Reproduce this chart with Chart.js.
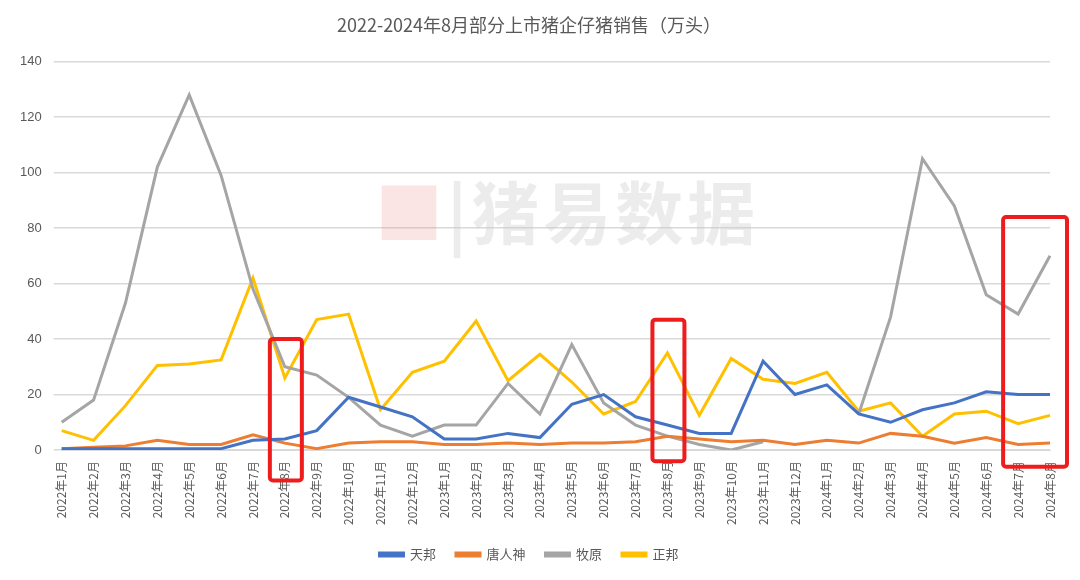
<!DOCTYPE html>
<html><head><meta charset="utf-8">
<script src="https://cdn.jsdelivr.net/npm/chart.js@4.4.0/dist/chart.umd.min.js"></script>
<style>html,body{margin:0;background:#fff}#w{width:1080px;height:580px;position:relative}
#wm{position:absolute;left:375px;top:160px;font:bold 68px "Noto Sans CJK SC";color:rgba(200,200,200,0.35);letter-spacing:4px}
</style></head><body><div id="w"><div id="wm"><span style="color:rgba(230,120,120,0.2)">■</span>|猪易数据</div><canvas id="c" width="1080" height="580"></canvas></div>
<script>
const categories=[];
for(const y of [2022,2023,2024]){for(let m=1;m<=12;m++){if(y===2024&&m>8)break;categories.push(y+'年'+m+'月');}}
const tianbang=[0.5,0.5,0.5,0.5,0.5,0.5,3.5,4,7,19,15.5,12,4,4,6,4.5,16.5,20,12,9,6,6,32,20,23.5,13,10,14.5,17,21,20,20];
const tangrenshen=[0.5,1,1.5,3.5,2,2,5.5,2.5,0.5,2.5,3,3,2,2,2.5,2,2.5,2.5,3,5,4,3,3.5,2,3.5,2.5,6,5,2.5,4.5,2,2.5];
const muyuan=[10,18,53,102,128,99,58,30,27,19,9,5,9,9,24,13,38,17,9,5,2,0,3,null,null,13,48,105,88,56,49,70];
const zhengbang=[7,3.5,16,30.5,31,32.5,62,26,47,49,14.5,28,32,46.5,25,34.5,24.5,13,17.5,35,12.5,33,25.5,24,28,14,17,5,13,14,9.5,12.5];
const boxes=[[7,7,40,-11],[19,19,47,-4],[30,31,84,-6]];
const F='"Noto Sans CJK SC"';
const boxPlugin={id:'boxes',afterDatasetsDraw(ch){const x=ch.scales.x,y=ch.scales.y,c=ch.ctx;c.save();c.strokeStyle='#ee1c1c';c.lineWidth=4;
for(const [a,b,t,bt] of boxes){const x0=x.getPixelForValue(a)-15,x1=x.getPixelForValue(b)+17;const y0=y.getPixelForValue(t),y1=y.getPixelForValue(bt);
c.beginPath();c.roundRect(x0,y0,x1-x0,y1-y0,3);c.stroke();}c.restore();}};
const ds=(l,d,col)=>({label:l,data:d,borderColor:col,backgroundColor:col,borderWidth:3,pointRadius:0,tension:0,spanGaps:false});
new Chart(document.getElementById('c'),{type:'line',data:{labels:categories,datasets:[
ds('天邦',tianbang,'#4472c4'),ds('唐人神',tangrenshen,'#ed7d31'),ds('牧原',muyuan,'#a5a5a5'),ds('正邦',zhengbang,'#ffc000')]},
options:{responsive:false,animation:false,layout:{padding:{left:8,right:30,top:0,bottom:9}},
plugins:{title:{display:true,text:'2022-2024年8月部分上市猪企仔猪销售（万头）',font:{family:F,size:18,weight:'normal'},color:'#595959',padding:{top:14,bottom:26}},
legend:{position:'bottom',labels:{boxWidth:24,boxHeight:3,font:{family:F,size:13},color:'#595959',padding:20}},tooltip:{enabled:false}},
scales:{x:{grid:{display:false},border:{color:'#d9d9d9'},ticks:{minRotation:90,maxRotation:90,autoSkip:false,font:{family:F,size:12},color:'#595959'}},
y:{min:0,max:140,ticks:{stepSize:20,font:{family:'Liberation Sans',size:13},color:'#595959',padding:12},grid:{color:'#d9d9d9',lineWidth:1.5},border:{display:false}}}},
plugins:[boxPlugin]});
</script></body></html>
